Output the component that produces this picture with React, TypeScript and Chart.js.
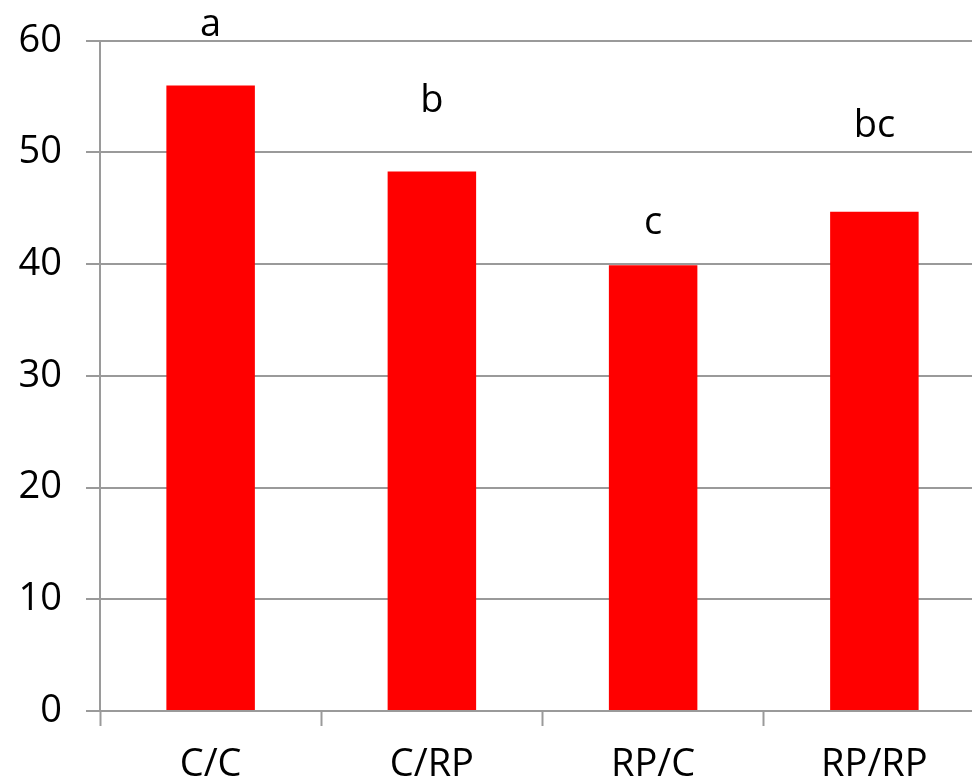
import React, { useEffect, useRef } from "react";
import { Chart, registerables } from "chart.js";

Chart.register(...registerables);

const categories = ["C/C", "C/RP", "RP/C", "RP/RP"];
const values = [56.0, 48.3, 39.9, 44.7];
const letters = ["a", "b", "c", "bc"];
const letterHeights = [60.4, 53.6, 42.7, 51.4];
const yTicks = [0, 10, 20, 30, 40, 50, 60];

const FONT = "'Open Sans', 'DejaVu Sans', sans-serif";
const GRID = "#9a9a9a";

const letterPlugin = {
  id: "letters",
  afterDatasetsDraw(chart: any) {
    const ctx = chart.ctx;
    const meta = chart.getDatasetMeta(0);
    const yScale = chart.scales.y;
    ctx.save();
    ctx.font = `500 38px ${FONT}`;
    ctx.fillStyle = "#000";
    ctx.textAlign = "center";
    ctx.textBaseline = "alphabetic";
    meta.data.forEach((bar: any, i: number) => {
      ctx.fillText(letters[i], bar.x, yScale.getPixelForValue(letterHeights[i]));
    });
    ctx.restore();
  },
};

export default function App() {
  const ref = useRef<HTMLCanvasElement | null>(null);
  useEffect(() => {
    if (!ref.current) return;
    const chart = new Chart(ref.current, {
      type: "bar",
      data: {
        labels: categories,
        datasets: [
          {
            data: values,
            backgroundColor: "#ff0000",
            borderWidth: 0,
            categoryPercentage: 0.4,
            barPercentage: 1,
          },
        ],
      },
      options: {
        responsive: false,
        animation: false,
        layout: { padding: { top: 40.7, left: 0, right: 0, bottom: 0 } },
        plugins: { legend: { display: false }, tooltip: { enabled: false } },
        scales: {
          x: {
            grid: {
              offset: true,
              drawOnChartArea: false,
              drawTicks: true,
              tickLength: 15,
              tickColor: GRID,
              tickWidth: 2,
            },
            border: { display: true, color: GRID, width: 2 },
            ticks: {
              color: "#000",
              font: { family: FONT, size: 38, weight: "500" },
              padding: 16,
              maxRotation: 0,
            },
            afterFit: (scale: any) => {
              scale.height = 72;
              scale.paddingLeft = 0;
              scale.paddingRight = 0;
            },
          },
          y: {
            min: 0,
            max: 60,
            afterBuildTicks: (scale: any) => {
              scale.ticks = yTicks.map((v) => ({ value: v }));
            },
            grid: {
              color: GRID,
              lineWidth: 2,
              drawTicks: true,
              tickLength: 14,
            },
            border: { display: true, color: GRID, width: 2 },
            ticks: {
              color: "#000",
              font: { family: FONT, size: 38, weight: "500" },
              padding: 24,
            },
            afterFit: (scale: any) => {
              scale.width = 100;
              scale.paddingTop = 0;
              scale.paddingBottom = 0;
            },
          },
        },
      },
      plugins: [letterPlugin],
    });
    return () => chart.destroy();
  }, []);
  return (
    <div
      style={{
        position: "absolute",
        left: 0,
        top: 0,
        width: 972,
        height: 783,
        overflow: "hidden",
        background: "#fff",
      }}
    >
      <canvas ref={ref} width={985} height={783} style={{ display: "block" }} />
    </div>
  );
}
